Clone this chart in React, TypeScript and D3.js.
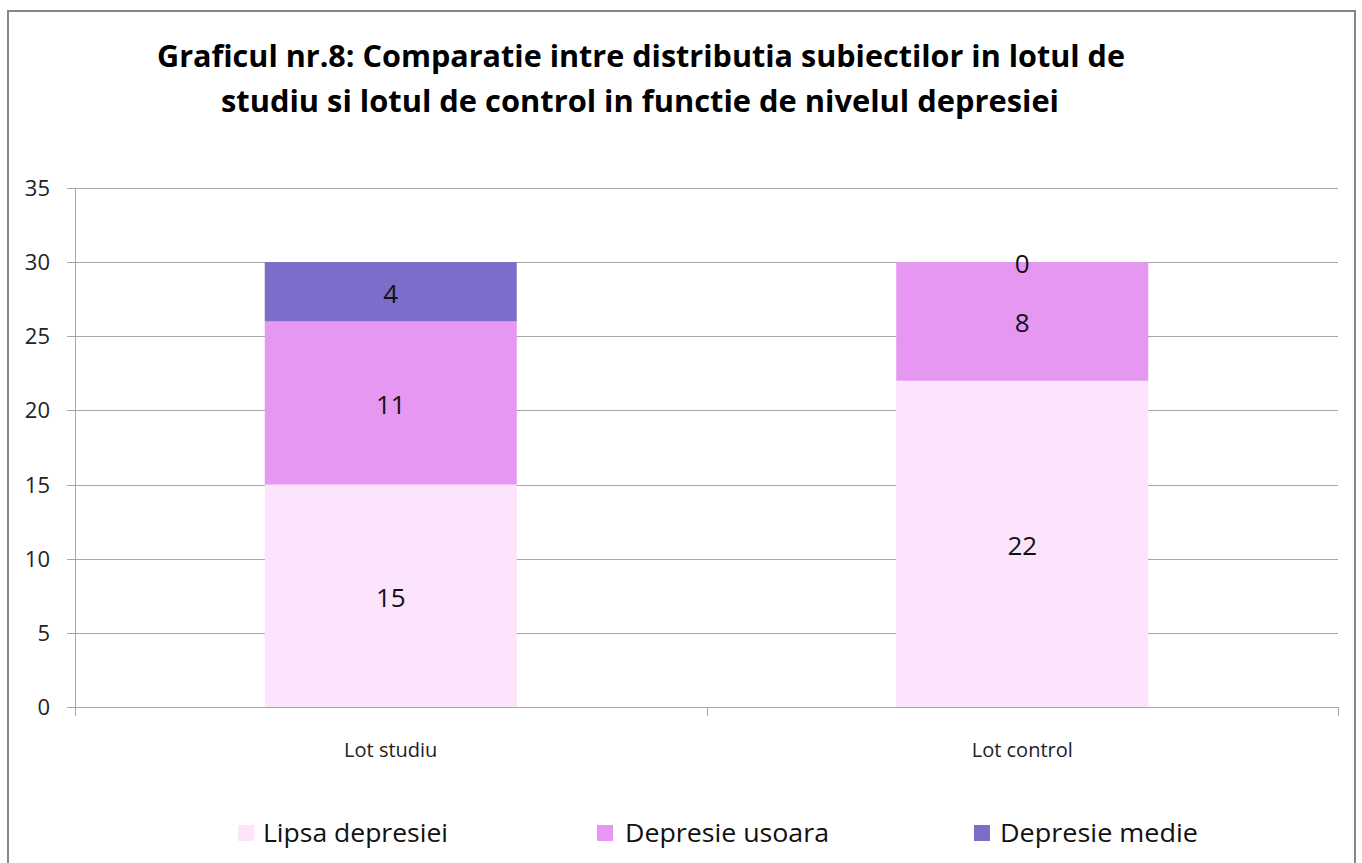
import React from "react";
import * as d3 from "d3";

const categories = ["Lot studiu", "Lot control"];
const seriesNames = ["Lipsa depresiei", "Depresie usoara", "Depresie medie"];
const lipsa = [15, 22];
const usoara = [11, 8];
const medie = [4, 0];
const yTicks = [0, 5, 10, 15, 20, 25, 30, 35];
const colors = ["#FCE4FC", "#E697F2", "#7B6DC9"];

const W = 1362;
const H = 863;
const FONT = "'Open Sans', 'Liberation Sans', sans-serif";

export default function App() {
  const x = d3.scaleBand<string>().domain(categories).range([75, 1338]).paddingInner(0).paddingOuter(0);
  const y = d3.scaleLinear().domain([0, 35]).range([707, 188]);
  const barW = 252;

  const rows = categories.map((c, i) => ({ cat: c, lipsa: lipsa[i], usoara: usoara[i], medie: medie[i] }));
  const stack = d3.stack<any>().keys(["lipsa", "usoara", "medie"]);
  const layers = stack(rows);

  const legendItems = [
    { sq: 238, tx: 263, len: 185 },
    { sq: 597, tx: 625, len: 204 },
    { sq: 974, tx: 1000, len: 198 },
  ];

  return (
    <svg width={W} height={H} style={{ position: "absolute", left: 0, top: 0, background: "#fff" }} fontFamily={FONT}>
      <rect x={0} y={0} width={W} height={H} fill="#fff" />
      <rect x={8} y={11} width={1347} height={880} fill="none" stroke="#868686" strokeWidth={2} />

      <text x={641} y={67} textAnchor="middle" fontSize={30} fontWeight="bold" fill="#000" textLength={968} lengthAdjust="spacingAndGlyphs">
        Graficul nr.8: Comparatie intre distributia subiectilor in lotul de
      </text>
      <text x={640} y={112} textAnchor="middle" fontSize={30} fontWeight="bold" fill="#000" textLength={838} lengthAdjust="spacingAndGlyphs">
        studiu si lotul de control in functie de nivelul depresiei
      </text>

      {yTicks.map((t) => (
        <g key={t}>
          <line x1={67} x2={1338} y1={Math.round(y(t)) + 0.5} y2={Math.round(y(t)) + 0.5} stroke="#A6A6A6" strokeWidth={1} />
          <text x={50} y={y(t) + 8} textAnchor="end" fontSize={22} fill="#222">{t}</text>
        </g>
      ))}

      {layers.map((layer, li) => (
        <g key={li}>
          {layer.map((d: any, i: number) => {
            const cx = (x(categories[i]) as number) + x.bandwidth() / 2;
            const y0 = y(d[0]);
            const y1 = y(d[1]);
            const v = d[1] - d[0];
            return (
              <g key={i}>
                {v > 0 && <rect x={cx - barW / 2} y={y1} width={barW} height={y0 - y1} fill={colors[li]} />}
                <text x={cx} y={(y0 + y1) / 2 + 11} textAnchor="middle" fontSize={26} fill="#111">{v}</text>
              </g>
            );
          })}
        </g>
      ))}

      <line x1={75.5} x2={75.5} y1={188} y2={715} stroke="#A6A6A6" strokeWidth={1} />
      <line x1={75} x2={1338} y1={707.5} y2={707.5} stroke="#A6A6A6" strokeWidth={1} />
      {[75, 707, 1338].map((t) => (
        <line key={t} x1={t + 0.5} x2={t + 0.5} y1={707} y2={716} stroke="#A6A6A6" strokeWidth={1} />
      ))}

      {categories.map((c) => (
        <text key={c} x={(x(c) as number) + x.bandwidth() / 2} y={757} textAnchor="middle" fontSize={20} fill="#222">{c}</text>
      ))}

      {seriesNames.map((s, i) => (
        <g key={s}>
          <rect x={legendItems[i].sq} y={825} width={16} height={16} fill={colors[i]} />
          <text x={legendItems[i].tx} y={842} fontSize={26} fill="#111" textLength={legendItems[i].len} lengthAdjust="spacingAndGlyphs">{s}</text>
        </g>
      ))}
    </svg>
  );
}
